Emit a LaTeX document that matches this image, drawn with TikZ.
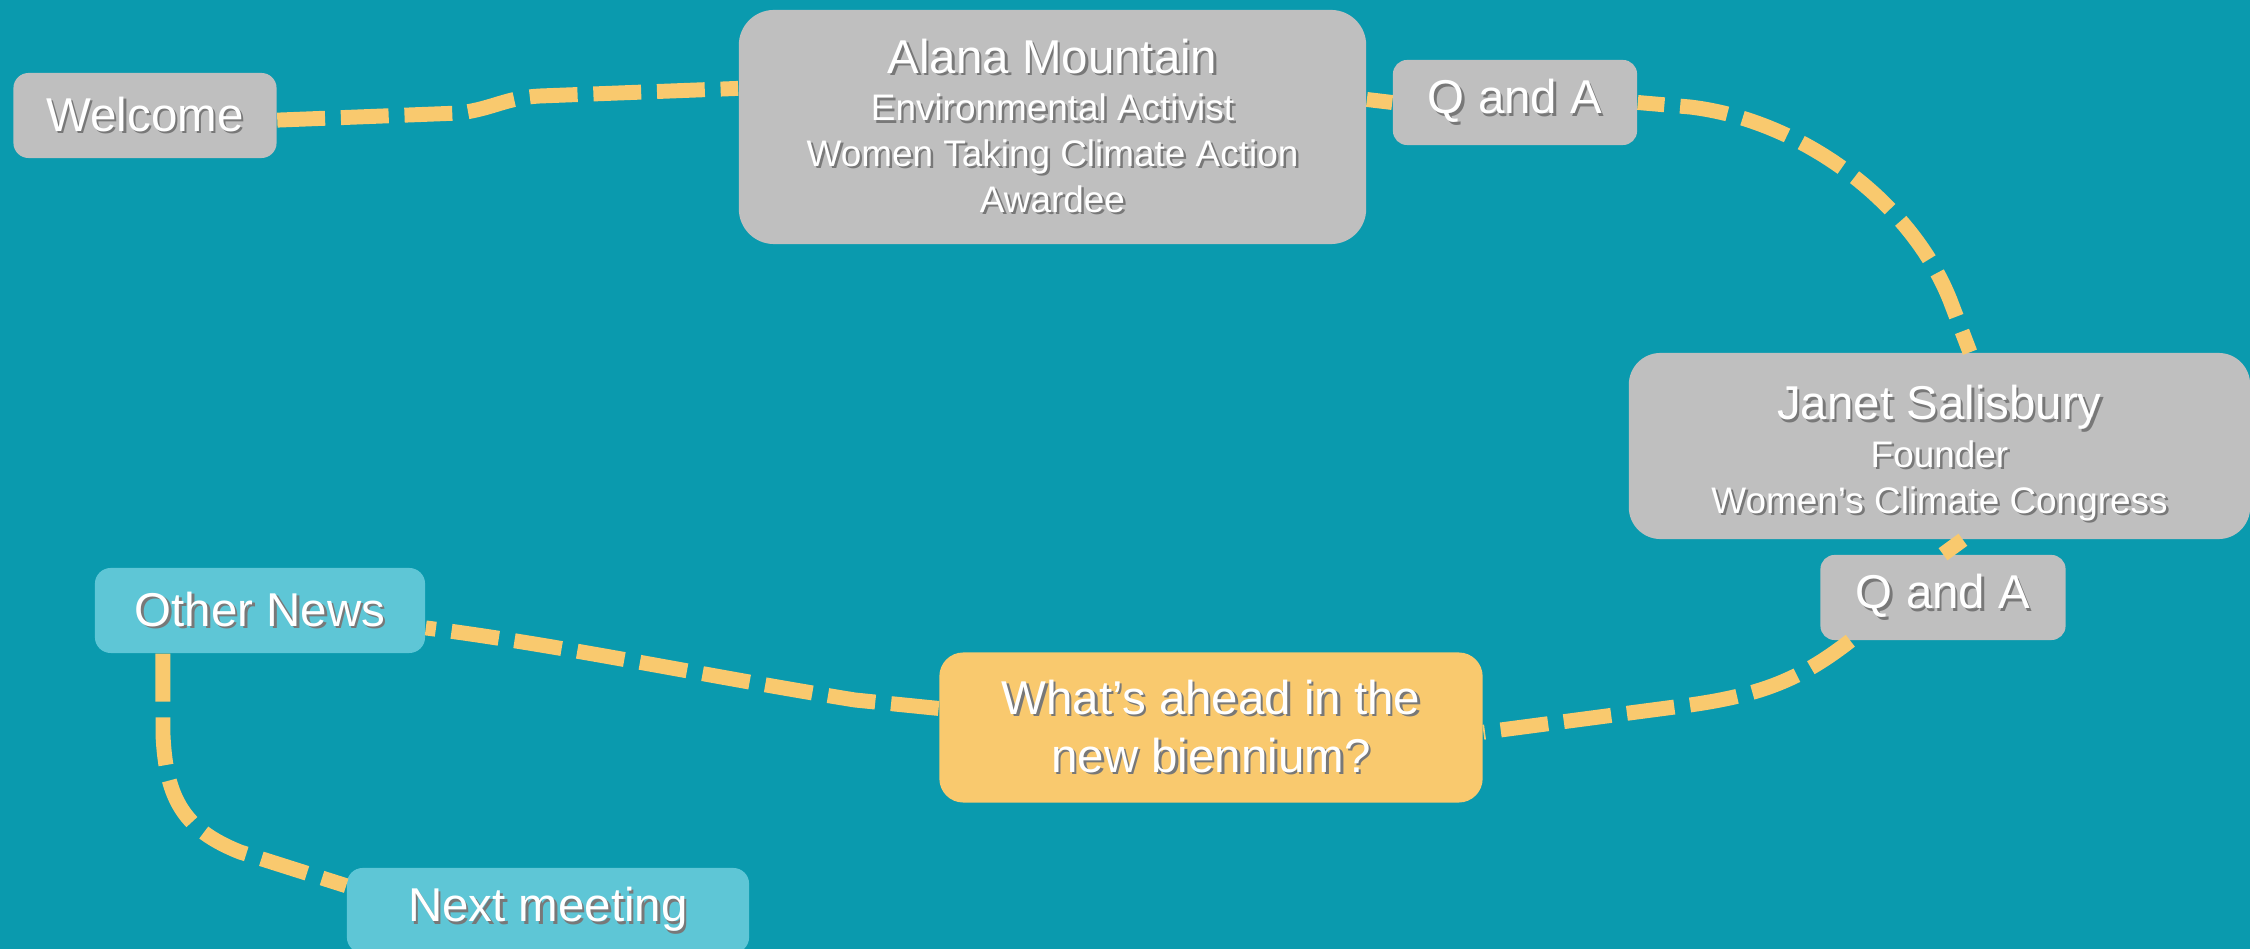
\documentclass[tikz,border=0pt]{standalone}
\usepackage{fontspec}
\setmainfont{Liberation Sans}
\definecolor{bgteal}{HTML}{0A9AAE}
\definecolor{boxgrey}{HTML}{BFBFBF}
\definecolor{boxblue}{HTML}{5EC6D6}
\definecolor{trailgold}{HTML}{F9C96E}
\definecolor{shadowgrey}{HTML}{787878}
\newcommand{\mainsize}{\fontsize{13.5}{16.5}\selectfont}
\newcommand{\subsize}{\fontsize{10.5}{12.8}\selectfont}
\newcommand{\shd}[1]{\leavevmode\rlap{\raisebox{-0.7pt}{\kern0.7pt\textcolor{shadowgrey}{#1}}}#1}
\newcommand{\subline}[1]{{\subsize\shd{#1}}}

\begin{document}
\begin{tikzpicture}[x=0.01cm,y=-0.01cm,
    card/.style={inner sep=0pt,align=center,text=white,font=\mainsize},
    greycard/.style={card,fill=boxgrey},
    bluecard/.style={card,fill=boxblue},
    goldcard/.style={card,fill=trailgold},
    trail/.style={draw=trailgold,line width=4.25pt,dash pattern=on 13.6pt off 4.5pt}]
    \clip (0,0) rectangle (2250,949);
    \fill[bgteal] (0,0) rectangle (2250,949);

    % speakers
    \node (welcome) at (145,115.5) [greycard,rounded corners=4.3pt,minimum width=2.63cm,minimum height=0.85cm] {\shd{Welcome}};
    \node (alana) at (1052.5,127) [greycard,rounded corners=10pt,minimum width=6.27cm,minimum height=2.34cm] {\shd{Alana Mountain}\\[-3pt] \subline{Environmental Activist}\\[-3.5pt] \subline{Women Taking Climate Action}\\[-3.5pt] \subline{Awardee}};
    \node (qa1) at (1515,102.5) [greycard,rounded corners=4pt,minimum width=2.44cm,minimum height=0.85cm] {\shd{Q and A}};
    \node (janet) at (1939.5,446) [greycard,rounded corners=9pt,minimum width=6.21cm,minimum height=1.86cm] {\rule{0pt}{14.5pt}\shd{Janet Salisbury}\\[-3pt] \subline{Founder}\\[-3.5pt] \subline{Women’s Climate Congress}};
    \node (qa2) at (1943,597.5) [greycard,rounded corners=4pt,minimum width=2.45cm,minimum height=0.85cm] {\shd{Q and A}};

    % rest of the meeting
    \node (ahead) at (1211,727.5) [goldcard,rounded corners=6.8pt,minimum width=5.43cm,minimum height=1.5cm] {\shd{What’s ahead in the}\\ \shd{new biennium?}};
    \node (other) at (260,610.5) [bluecard,rounded corners=4.5pt,minimum width=3.3cm,minimum height=0.85cm] {\shd{Other News}};
    \node (next) at (548,910.5) [bluecard,rounded corners=4.5pt,minimum width=4.02cm,minimum height=0.85cm] {\shd{Next meeting}};

    % the trail
    \draw[trail] (welcome.-2) -- (460,113) .. controls (495,108) and (505,98) .. (540,96) -- (alana.173);
    \draw[trail] (alana.5) -- (qa1.west);
    \draw[trail,dash phase=6pt] (qa1.east) -- (1690,107) .. controls (1800,120) and (1910,200) .. (1950,300) -- (janet.72);
    \draw[trail] (janet.-76) -- (qa2.north);
    \draw[trail] (qa2.-155) .. controls (1800,680) and (1760,695) .. (1690,705) -- (ahead.-1);
    \draw[trail] (ahead.176) -- (855,700) .. controls (700,675) and (560,645) .. (other.-6);
    \draw[trail] (other.-156) -- (163,735) .. controls (166,800) and (185,830) .. (240,852) -- (next.173);
\end{tikzpicture}
\end{document}
